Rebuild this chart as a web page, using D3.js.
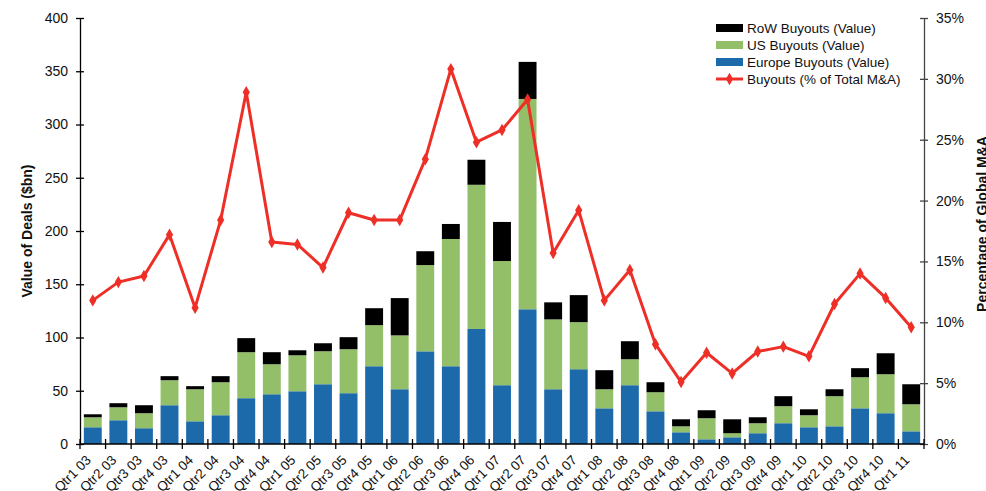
<!DOCTYPE html>
<html>
<head>
<meta charset="utf-8">
<script src="https://cdn.jsdelivr.net/npm/d3@7"></script>
<style>
  body { margin: 0; background: #fff; }
  svg { display: block; font-family: "Liberation Sans", Arial, sans-serif; }
</style>
</head>
<body>
<div id="chart"></div>
<script>
// quarters
const quarters = [
  "Qtr1 03", "Qtr2 03", "Qtr3 03", "Qtr4 03",
  "Qtr1 04", "Qtr2 04", "Qtr3 04", "Qtr4 04",
  "Qtr1 05", "Qtr2 05", "Qtr3 05", "Qtr4 05",
  "Qtr1 06", "Qtr2 06", "Qtr3 06", "Qtr4 06",
  "Qtr1 07", "Qtr2 07", "Qtr3 07", "Qtr4 07",
  "Qtr1 08", "Qtr2 08", "Qtr3 08", "Qtr4 08",
  "Qtr1 09", "Qtr2 09", "Qtr3 09", "Qtr4 09",
  "Qtr1 10", "Qtr2 10", "Qtr3 10", "Qtr4 10",
  "Qtr1 11"
];

// $bn
const europeBuyouts = [
  15.7, 22.3, 14.8, 36.4, 21.3, 27.0, 43.0, 46.7, 49.5, 56.1, 47.7, 73.0,
  51.4, 87.0, 73.0, 108.0, 55.2, 126.5, 51.4, 70.2, 33.5, 55.2, 30.7, 11.0,
  4.4, 6.3, 10.1, 19.5, 15.7, 16.6, 33.5, 28.9, 11.9
];
const usBuyouts = [
  9.4, 12.2, 14.1, 23.5, 30.1, 31.0, 43.2, 28.2, 33.8, 31.0, 41.3, 38.6,
  50.6, 81.0, 119.5, 135.4, 116.6, 197.5, 65.6, 44.2, 17.9, 24.4, 17.9, 5.6,
  19.8, 3.8, 9.4, 16.0, 11.3, 28.3, 29.2, 36.6, 25.4
];
const rowBuyouts = [
  2.8, 3.8, 7.5, 3.8, 2.9, 5.7, 13.2, 11.3, 4.7, 7.5, 11.3, 15.9,
  35.0, 13.0, 14.1, 23.5, 36.7, 34.8, 16.0, 25.4, 17.9, 16.9, 9.4, 6.6,
  7.5, 13.1, 5.6, 9.4, 5.6, 6.5, 8.5, 19.7, 18.8
];
// % of total M&A
const buyoutPct = [
  11.8, 13.3, 13.8, 17.2, 11.2, 18.4, 28.9, 16.6, 16.4, 14.5, 19.0, 18.4,
  18.4, 23.4, 30.8, 24.8, 25.8, 28.3, 15.7, 19.2, 11.8, 14.3, 8.2, 5.1,
  7.5, 5.8, 7.6, 8.0, 7.2, 11.5, 14.0, 12.0, 9.6
];

const leftTicks = [0, 50, 100, 150, 200, 250, 300, 350, 400];
const rightTicks = [0, 5, 10, 15, 20, 25, 30, 35];

const colors = { europe: "#1d6aab", us: "#93bf69", row: "#000000", line: "#ee2f27" };

const W = 986, H = 491;
const margin = { top: 18, right: 62, bottom: 47, left: 80 };
const innerW = W - margin.left - margin.right;
const innerH = H - margin.top - margin.bottom;

const svg = d3.select("#chart").append("svg").attr("width", W).attr("height", H);
const g = svg.append("g").attr("transform", `translate(${margin.left},${margin.top})`);

const x = d3.scaleBand().domain(quarters).range([0, innerW]).paddingInner(0.3).paddingOuter(0.15);
const y = d3.scaleLinear().domain([0, 400]).range([innerH, 0]);
const y2 = d3.scaleLinear().domain([0, 35]).range([innerH, 0]);

// stacked data
const rows = quarters.map((q, i) => ({
  q: q, europe: europeBuyouts[i], us: usBuyouts[i], row: rowBuyouts[i]
}));
const stack = d3.stack().keys(["europe", "us", "row"]);
const series = stack(rows);

g.selectAll(".series")
  .data(series)
  .enter()
  .append("g")
  .attr("fill", (d) => colors[d.key])
  .selectAll("rect")
  .data((d) => d)
  .enter()
  .append("rect")
  .attr("x", (d) => x(d.data.q))
  .attr("y", (d) => y(d[1]))
  .attr("width", x.bandwidth())
  .attr("height", (d) => y(d[0]) - y(d[1]));

// LEFT AXIS
const leftAxis = g.append("g")
  .call(d3.axisLeft(y).tickValues(leftTicks).tickSizeInner(4).tickSizeOuter(0).tickPadding(8));
leftAxis.select(".domain").attr("stroke", "#000").attr("stroke-width", 1.3);
leftAxis.selectAll(".tick line").attr("x2", 4).attr("x1", -4).attr("stroke-width", 1.3);
leftAxis.selectAll("text").attr("font-size", 14).attr("fill", "#111").attr("font-family", "Liberation Sans, Arial, sans-serif");

// RIGHT AXIS
const rightAxis = g.append("g")
  .attr("transform", `translate(${innerW},0)`)
  .call(d3.axisRight(y2).tickValues(rightTicks).tickFormat((d) => d + "%").tickSizeInner(4).tickSizeOuter(0).tickPadding(8));
rightAxis.select(".domain").attr("stroke", "#444").attr("stroke-width", 1.3);
rightAxis.selectAll(".tick line").attr("x1", -4).attr("x2", 4).attr("stroke", "#444").attr("stroke-width", 1.3);
rightAxis.selectAll("text").attr("font-size", 14).attr("fill", "#111").attr("font-family", "Liberation Sans, Arial, sans-serif");

// X AXIS
const xAxisG = g.append("g").attr("transform", `translate(0,${innerH})`);
xAxisG.append("line").attr("x1", 0).attr("x2", innerW).attr("stroke", "#000").attr("stroke-width", 1.5);
const boundaries = d3.range(quarters.length + 1).map((i) => i * innerW / quarters.length);
xAxisG.selectAll(".xtick")
  .data(boundaries)
  .enter()
  .append("line")
  .attr("x1", (d) => d).attr("x2", (d) => d)
  .attr("y1", -5).attr("y2", 5)
  .attr("stroke", "#000").attr("stroke-width", 1.3);
// labels touch the bottom edge, as in the source image
xAxisG.selectAll(".xlabel")
  .data(quarters)
  .enter()
  .append("text")
  .attr("transform", (d) => `translate(${x(d) + x.bandwidth() / 2 - 1},${17}) rotate(-45)`)
  .attr("text-anchor", "end")
  .attr("font-size", 13.5)
  .attr("fill", "#111")
  .text((d) => d);

// LINE
const line = d3.line()
  .x((d, i) => x(quarters[i]) + x.bandwidth() / 2)
  .y((d) => y2(d));

g.append("path")
  .datum(buyoutPct)
  .attr("d", line)
  .attr("fill", "none")
  .attr("stroke", colors.line)
  .attr("stroke-width", 3)
  .attr("stroke-linejoin", "round");

g.selectAll(".marker")
  .data(buyoutPct)
  .enter()
  .append("path")
  .attr("d", d3.symbol().type(d3.symbolDiamond).size(45))
  .attr("transform", (d, i) => `translate(${x(quarters[i]) + x.bandwidth() / 2},${y2(d)})`)
  .attr("fill", colors.line);

// AXIS TITLES
svg.append("text")
  .attr("transform", `translate(32,${margin.top + innerH / 2}) rotate(-90)`)
  .attr("text-anchor", "middle")
  .attr("font-size", 14)
  .attr("font-weight", "bold")
  .attr("fill", "#111")
  .text("Value of Deals ($bn)");

svg.append("text")
  .attr("transform", `translate(987,224) rotate(-90)`)
  .attr("text-anchor", "middle")
  .attr("font-size", 14)
  .attr("font-weight", "bold")
  .attr("fill", "#111")
  .text("Percentage of Global M&A");

// LEGEND
const legendItems = [
  { label: "RoW Buyouts (Value)", color: colors.row, type: "rect" },
  { label: "US Buyouts (Value)", color: colors.us, type: "rect" },
  { label: "Europe Buyouts (Value)", color: colors.europe, type: "rect" },
  { label: "Buyouts (% of Total M&A)", color: colors.line, type: "line" }
];
const legend = svg.append("g").attr("transform", "translate(716,28)");
const li = legend.selectAll(".li")
  .data(legendItems)
  .enter()
  .append("g")
  .attr("transform", (d, i) => `translate(0,${i * 17})`);
li.filter((d) => d.type === "rect")
  .append("rect")
  .attr("x", 0).attr("y", -4).attr("width", 27).attr("height", 8)
  .attr("fill", (d) => d.color);
li.filter((d) => d.type === "line")
  .append("line")
  .attr("x1", 0).attr("x2", 27).attr("y1", 0).attr("y2", 0)
  .attr("stroke", (d) => d.color).attr("stroke-width", 3);
li.filter((d) => d.type === "line")
  .append("path")
  .attr("d", d3.symbol().type(d3.symbolDiamond).size(45))
  .attr("transform", "translate(13.5,0)")
  .attr("fill", (d) => d.color);
li.append("text")
  .attr("x", 31)
  .attr("dy", "0.38em")
  .attr("font-size", 13.5)
  .attr("fill", "#111")
  .text((d) => d.label);
</script>
</body>
</html>
